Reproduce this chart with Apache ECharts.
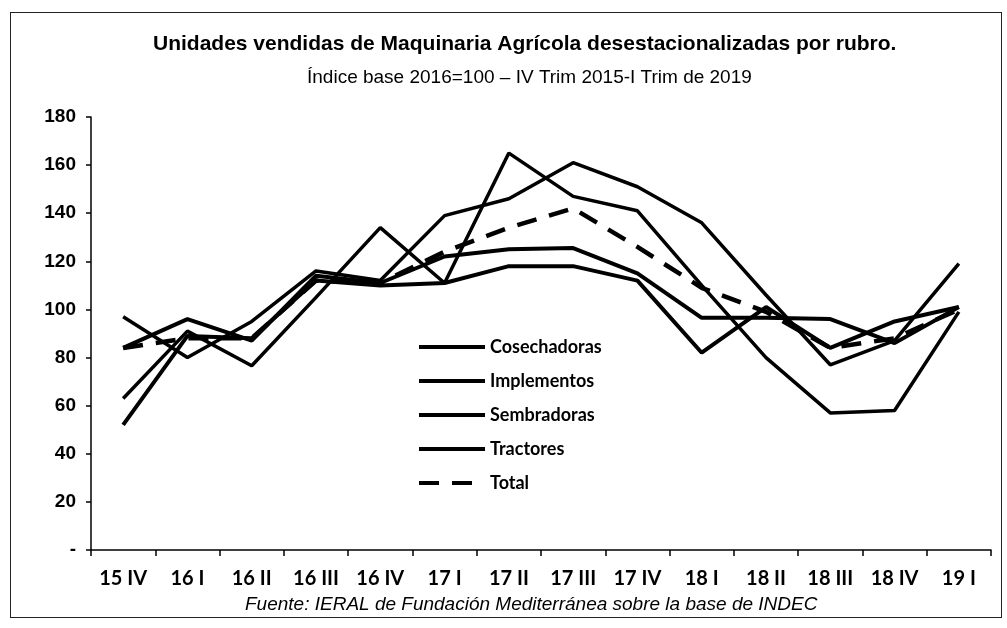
<!DOCTYPE html>
<html>
<head>
<meta charset="utf-8">
<script src="https://cdn.jsdelivr.net/npm/echarts@6/dist/echarts.min.js"></script>
<style>
  html, body { margin: 0; padding: 0; background: #fff; }
  #frame { position: absolute; left: 10px; top: 12px; width: 990px; height: 604px; border: 1.5px solid #222; }
  #main { position: absolute; left: 0; top: 0; width: 1007px; height: 628px; }
</style>
</head>
<body>
<div id="frame"></div>
<div id="main"></div>
<script>
// trimestres
var categorias = ['15 IV', '16 I', '16 II', '16 III', '16 IV', '17 I', '17 II', '17 III', '17 IV', '18 I', '18 II', '18 III', '18 IV', '19 I'];

// valores (indice 2016=100)
var cosechadoras = [63, 91, 76.6, 105, 134, 111, 165, 147, 141, 110, 80, 57, 58, 99];
var implementos  = [84, 96, 87, 114, 111, 122, 125, 125.5, 115, 96.5, 96.5, 96, 86, 101];
var sembradoras  = [97, 80, 95, 116, 112, 139, 146, 161, 151, 136, 106, 77, 87, 119];
var tractores    = [52, 89, 88, 112, 110, 111, 118, 118, 112, 82, 101, 84, 95, 101];
var total        = [84, 88, 88, 112, 111, 124, 134, 142, 126, 109, 99, 84, 88, 100];

var chartDom = document.getElementById('main');
var myChart = echarts.init(chartDom);

function serie(nombre, datos, ancho, tipo) {
    return {
        name: nombre,
        type: 'line',
        data: datos,
        symbol: 'none',
        smooth: false,
        lineStyle: { color: '#000', width: ancho, type: tipo || 'solid' },
        itemStyle: { color: '#000' }
    };
}

var option = {
    animation: false,
    backgroundColor: 'transparent',
    title: [
        {
            text: 'Unidades vendidas de Maquinaria Agrícola desestacionalizadas por rubro.',
            left: 148,
            top: 29,
            textStyle: { fontFamily: 'Liberation Sans', fontSize: 21, fontWeight: 'bold', color: '#000' }
        },
        {
            text: 'Índice base 2016=100 – IV Trim 2015-I Trim de 2019',
            left: 302,
            top: 63,
            textStyle: { fontFamily: 'Liberation Sans', fontSize: 19, fontWeight: 'normal', color: '#000' }
        },
        {
            text: 'Fuente: IERAL de Fundación Mediterránea sobre la base de INDEC',
            left: 240,
            top: 590,
            textStyle: { fontFamily: 'Liberation Sans', fontSize: 19, fontStyle: 'italic', fontWeight: 'normal', color: '#000' }
        }
    ],
    legend: {
        orient: 'vertical',
        left: 417,
        top: 337,
        padding: 0,
        itemWidth: 66,
        itemHeight: 14,
        itemGap: 14,
        itemStyle: { opacity: 0 },
        lineStyle: { width: 4 },
        textStyle: { fontFamily: 'Lato', fontSize: 18, fontWeight: 'bold', color: '#000', lineHeight: 20 },
        data: ['Cosechadoras', 'Implementos', 'Sembradoras', 'Tractores', 'Total']
    },
    grid: { left: 91, right: 16, top: 117, bottom: 78 },
    xAxis: {
        type: 'category',
        data: categorias,
        boundaryGap: true,
        axisLine: { lineStyle: { color: '#000', width: 1.5 } },
        axisTick: { show: true, interval: 0, length: 6, lineStyle: { color: '#000', width: 1.5 } },
        axisLabel: { interval: 0, margin: 19, fontFamily: 'Lato', fontSize: 20, fontWeight: 'bold', color: '#000' }
    },
    yAxis: {
        type: 'value',
        min: 0,
        max: 180,
        interval: 20,
        splitLine: { show: false },
        axisLine: { show: true, lineStyle: { color: '#000', width: 1.5 } },
        axisTick: { show: true, length: 5, lineStyle: { color: '#000', width: 1.5 } },
        axisLabel: {
            margin: 15,
            fontFamily: 'Liberation Sans', fontSize: 19, fontWeight: 'bold', color: '#000',
            formatter: function (v) { return v === 0 ? '-' : v; }
        }
    },
    series: [
        serie('Cosechadoras', cosechadoras, 3.5),
        serie('Implementos', implementos, 4),
        serie('Sembradoras', sembradoras, 3.5),
        serie('Tractores', tractores, 4),
        serie('Total', total, 4.5, [20, 13])
    ]
};

myChart.setOption(option);
</script>
</body>
</html>
